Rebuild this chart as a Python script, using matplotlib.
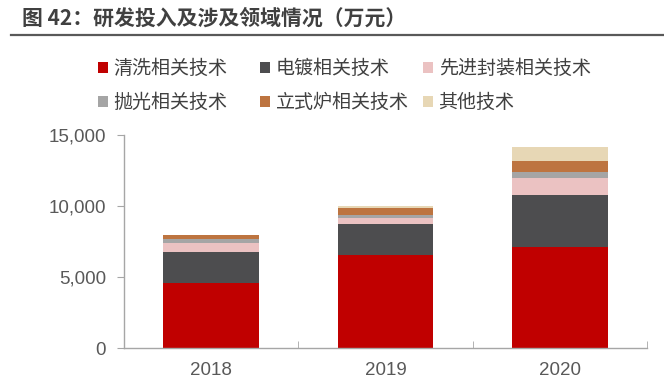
import numpy as np
import matplotlib.pyplot as plt
from matplotlib.patches import Patch
from matplotlib.ticker import FuncFormatter

# === Data (万元) ===
years = ["2018", "2019", "2020"]
series_names = ["清洗相关技术", "电镀相关技术", "先进封装相关技术",
                "抛光相关技术", "立式炉相关技术", "其他技术"]
cleaning = [4600, 6575, 7140]
plating = [2180, 2185, 3660]
packaging = [630, 375, 1170]
polishing = [260, 260, 400]
furnace = [290, 440, 800]
other = [30, 140, 980]
colors = ["#C00000", "#4D4D4F", "#EBC2C2", "#A5A5A5", "#BD7440", "#E7D7B5"]

cjk = ["Noto Sans CJK SC", "DejaVu Sans"]
num_font = ["Liberation Sans", "DejaVu Sans"]
text_color = "#404040"

fig = plt.figure(figsize=(6.64, 3.79), dpi=100)
ax = fig.add_axes([0.1867, 0.081, 0.7877, 0.5628])

x = np.arange(len(years))
bottom = np.zeros(len(years))
for name, vals, c in zip(series_names,
                         [cleaning, plating, packaging, polishing, furnace, other],
                         colors):
    ax.bar(x, vals, width=0.55, bottom=bottom, color=c, label=name, zorder=2)
    bottom += np.array(vals)

ax.set_xlim(-0.5, 2.5)
ax.set_ylim(0, 15000)
ax.set_yticks([0, 5000, 10000, 15000])
ax.yaxis.set_major_formatter(FuncFormatter(lambda v, p: f"{int(v):,}"))
ax.set_xticks(x)
ax.set_xticklabels(years)
ax.set_xticks([0.5, 1.5, 2.5], minor=True)

for s in ["top", "right"]:
    ax.spines[s].set_visible(False)
for s in ["left", "bottom"]:
    ax.spines[s].set_color("#A6A6A6")
    ax.spines[s].set_linewidth(1)
ax.tick_params(axis="y", direction="out", length=5, color="#A6A6A6", pad=8)
ax.tick_params(axis="x", which="major", length=0, pad=10)
ax.tick_params(axis="x", which="minor", direction="in", length=5, color="#A6A6A6")
for lab in ax.get_xticklabels() + ax.get_yticklabels():
    lab.set_family(num_font)
    lab.set_fontsize(13.5)
    lab.set_color("#595959")

# === Title and rule ===
fig.text(22 / 664, 1 - 18 / 379, "图 42：研发投入及涉及领域情况（万元）",
         family=cjk, fontsize=15, fontweight="bold", color=text_color,
         ha="left", va="center")
fig.add_artist(plt.Line2D([11 / 664, 1], [1 - 35 / 379] * 2,
                          color="#595959", lw=1.6, transform=fig.transFigure))

# === Legend: three columns placed like the original ===
handles = [Patch(facecolor=c, edgecolor="none") for c in colors]
col_x = [98, 260, 423]
for i, cx in enumerate(col_x):
    idx = [i, i + 3]
    fig.legend([handles[j] for j in idx], [series_names[j] for j in idx],
               loc="upper left", bbox_to_anchor=(cx / 664, 1 - 58 / 379),
               frameon=False, ncol=1, borderpad=0, borderaxespad=0,
               handlelength=0.52, handleheight=0.52, handletextpad=0.3,
               labelspacing=0.7, prop={"family": cjk, "size": 13.7},
               labelcolor=text_color)

fig.savefig("out.png", dpi=100)
